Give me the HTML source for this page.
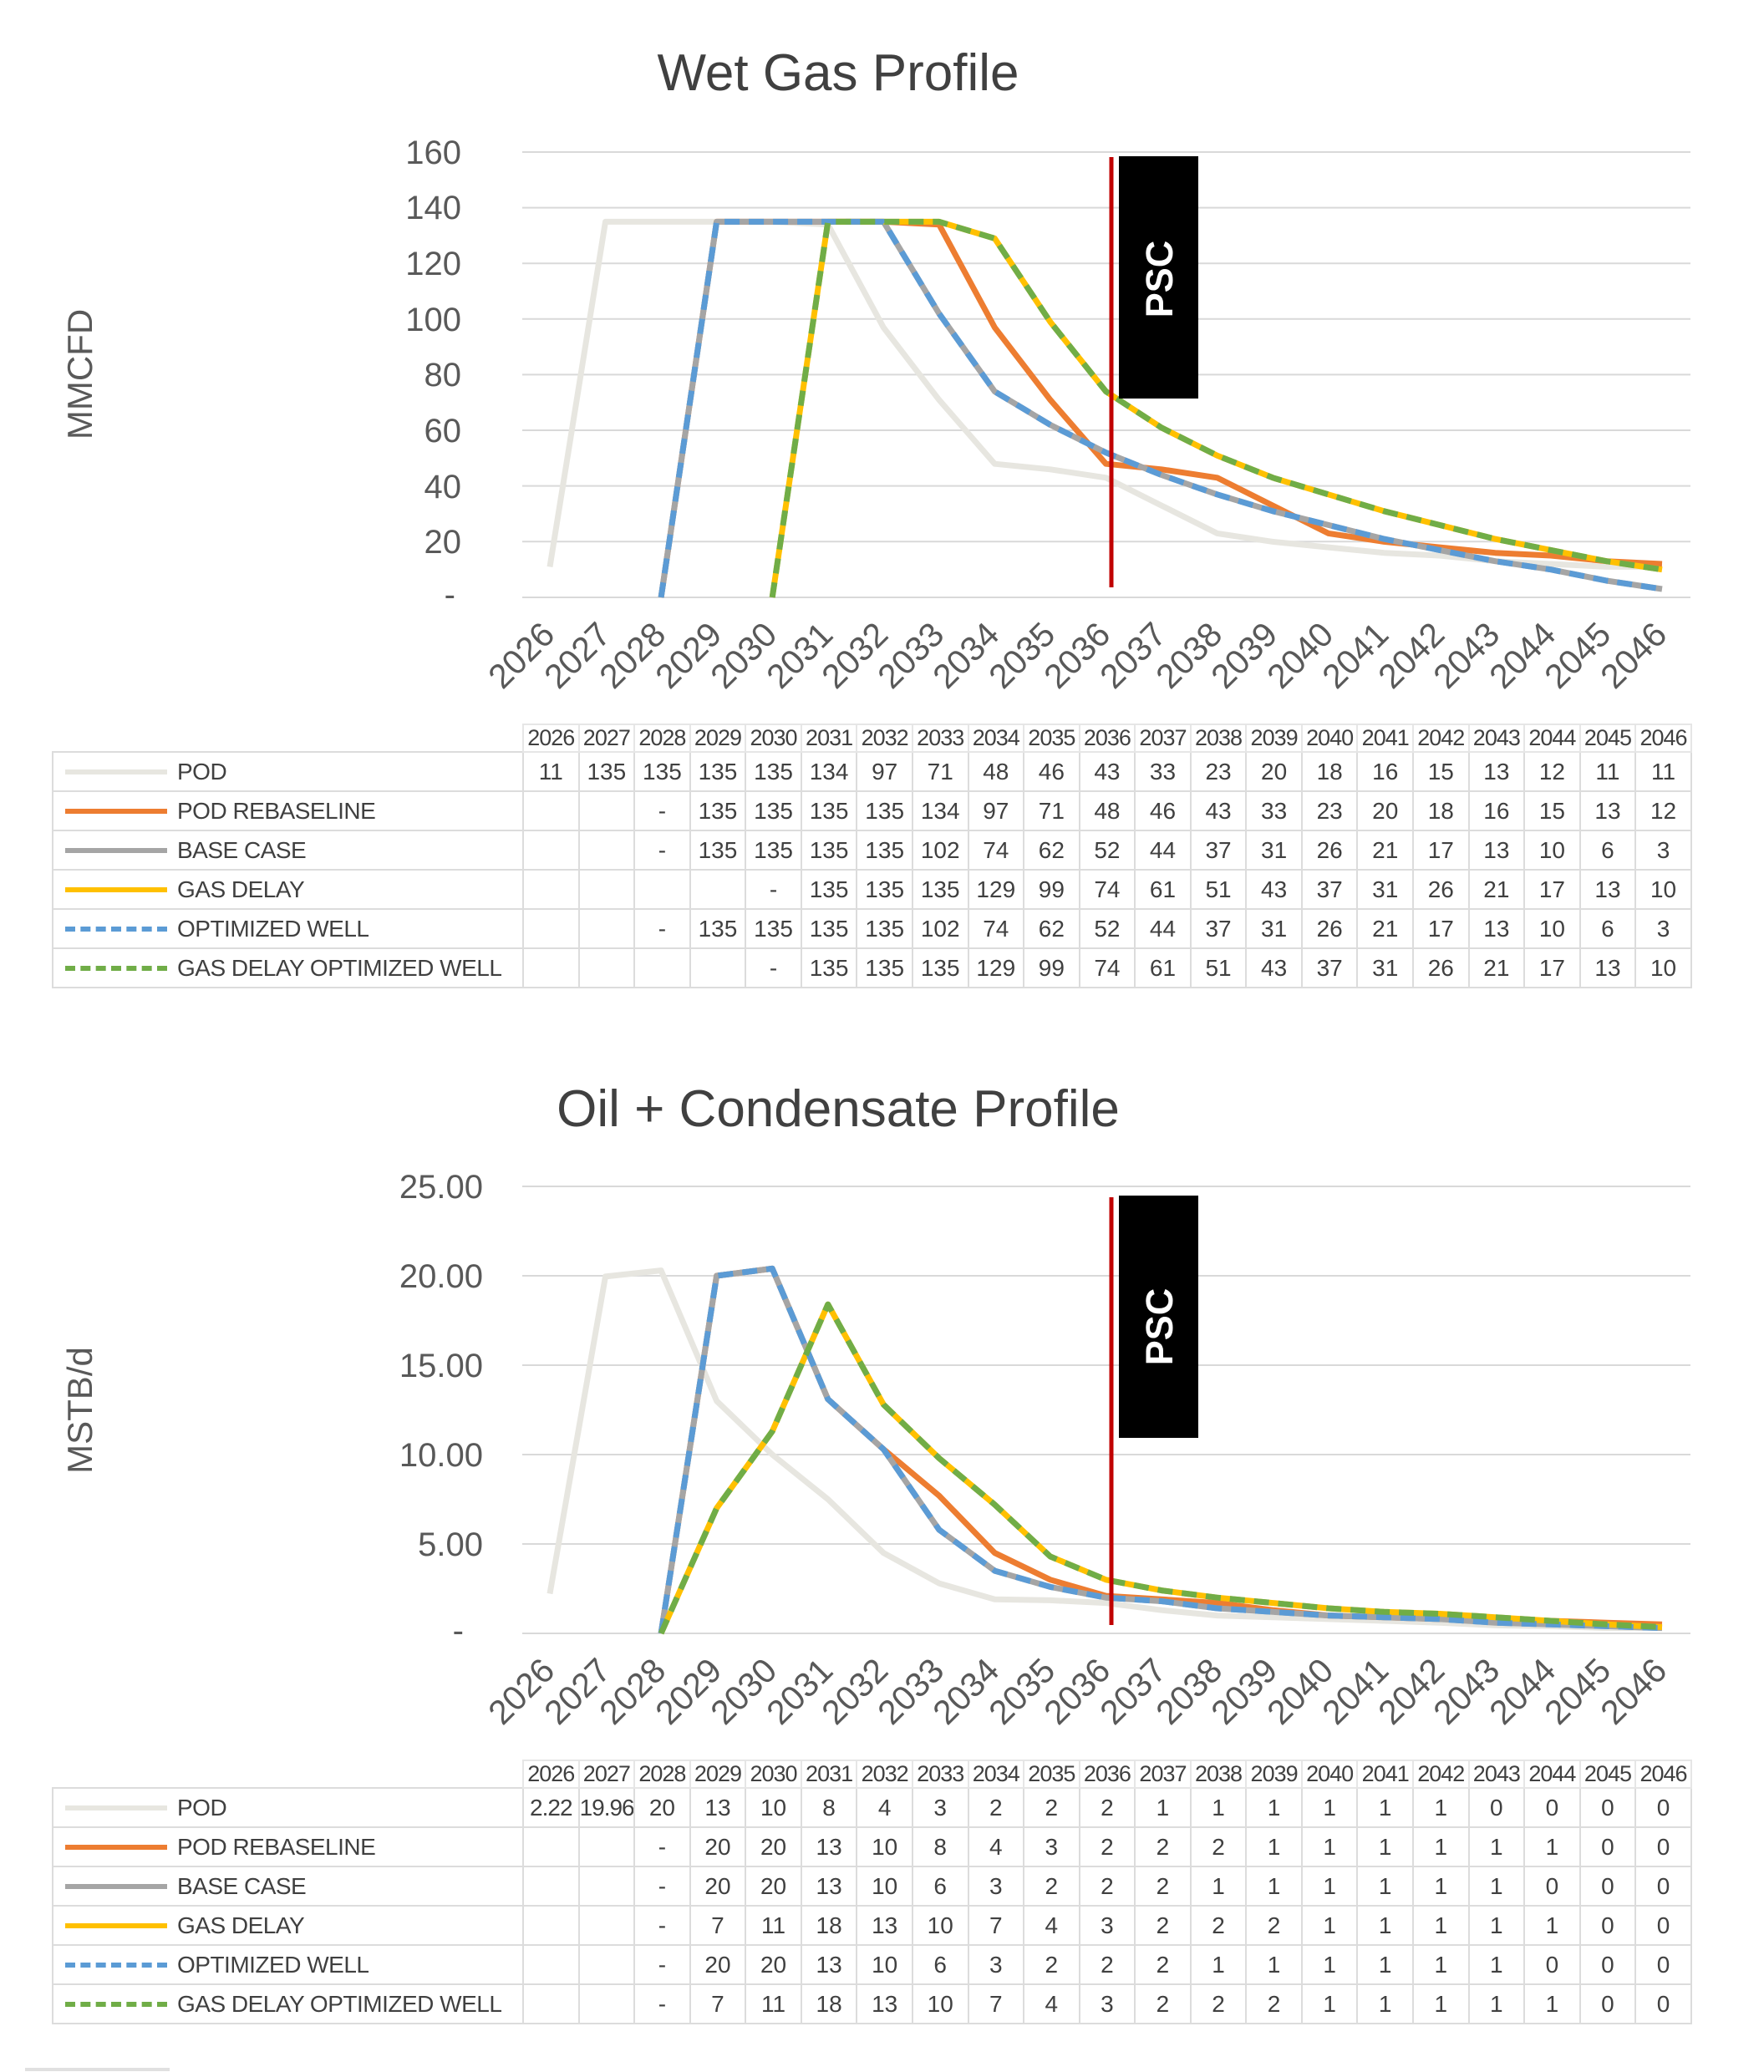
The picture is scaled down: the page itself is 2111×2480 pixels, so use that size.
<!DOCTYPE html>
<html><head><meta charset="utf-8">
<style>
html,body{margin:0;padding:0;background:#fff;}
body{width:2111px;height:2480px;position:relative;overflow:hidden;font-family:"Liberation Sans",Arial,sans-serif;}
svg{position:absolute;left:0;top:0;}
table{position:absolute;border-collapse:collapse;table-layout:fixed;font-family:"Liberation Sans",Arial,sans-serif;color:#404040;}
td{border:2px solid #dcdcdc;height:45px;padding:0;text-align:center;font-size:28px;white-space:nowrap;overflow:hidden;}
td.lg{text-align:left;font-size:28px;position:relative;padding-left:148px;letter-spacing:-0.5px;}
tr.hd td{height:30px;font-size:27px;border-color:#e6e6e6;letter-spacing:-1px;}
tr.hd td.blank{border:none;}
.sw{position:absolute;left:14px;top:20px;width:122px;height:0;border-top:6px solid;}
.dash{border-top-style:dashed;}
</style></head><body>
<svg width="2111" height="2480" xmlns="http://www.w3.org/2000/svg" font-family="Liberation Sans, Arial, sans-serif">
<g id="c1">
<text x="1003" y="108" font-size="62" fill="#404040" text-anchor="middle">Wet Gas Profile</text>
<g stroke="#d9d9d9" stroke-width="2">
<line x1="625" x2="2023" y1="182" y2="182"/><line x1="625" x2="2023" y1="248.6" y2="248.6"/><line x1="625" x2="2023" y1="315.2" y2="315.2"/><line x1="625" x2="2023" y1="381.8" y2="381.8"/><line x1="625" x2="2023" y1="448.4" y2="448.4"/><line x1="625" x2="2023" y1="515" y2="515"/><line x1="625" x2="2023" y1="581.6" y2="581.6"/><line x1="625" x2="2023" y1="648.2" y2="648.2"/><line x1="625" x2="2023" y1="715" y2="715"/>
</g>
<g font-size="40" fill="#595959" text-anchor="end">
<text x="552" y="196">160</text><text x="552" y="262">140</text><text x="552" y="329">120</text><text x="552" y="396">100</text><text x="552" y="462">80</text><text x="552" y="529">60</text><text x="552" y="596">40</text><text x="552" y="662">20</text><text x="545" y="725">-</text>
</g>
<text transform="translate(110,448) rotate(-90)" font-size="42" fill="#595959" text-anchor="middle">MMCFD</text>
<g font-size="41" fill="#595959" text-anchor="end">
<text transform="translate(666,762) rotate(-45)">2026</text><text transform="translate(733,762) rotate(-45)">2027</text><text transform="translate(799,762) rotate(-45)">2028</text><text transform="translate(866,762) rotate(-45)">2029</text><text transform="translate(932,762) rotate(-45)">2030</text><text transform="translate(999,762) rotate(-45)">2031</text><text transform="translate(1065,762) rotate(-45)">2032</text><text transform="translate(1132,762) rotate(-45)">2033</text><text transform="translate(1198,762) rotate(-45)">2034</text><text transform="translate(1265,762) rotate(-45)">2035</text><text transform="translate(1331,762) rotate(-45)">2036</text><text transform="translate(1398,762) rotate(-45)">2037</text><text transform="translate(1465,762) rotate(-45)">2038</text><text transform="translate(1531,762) rotate(-45)">2039</text><text transform="translate(1598,762) rotate(-45)">2040</text><text transform="translate(1664,762) rotate(-45)">2041</text><text transform="translate(1731,762) rotate(-45)">2042</text><text transform="translate(1797,762) rotate(-45)">2043</text><text transform="translate(1864,762) rotate(-45)">2044</text><text transform="translate(1930,762) rotate(-45)">2045</text><text transform="translate(1997,762) rotate(-45)">2046</text>
</g>
<g id="s1" fill="none" stroke-linejoin="round"></g>
<rect x="1339" y="187" width="95" height="290" fill="#000"/>
<line x1="1330" x2="1330" y1="188" y2="703" stroke="#c00000" stroke-width="5"/>
<text transform="translate(1403,334) rotate(-90)" font-size="45" font-weight="bold" fill="#fff" text-anchor="middle">PSC</text>
</g>
<g id="c2">
<text x="1003" y="1348" font-size="62" fill="#404040" text-anchor="middle">Oil + Condensate Profile</text>
<g stroke="#d9d9d9" stroke-width="2">
<line x1="625" x2="2023" y1="1420" y2="1420"/><line x1="625" x2="2023" y1="1527" y2="1527"/><line x1="625" x2="2023" y1="1634" y2="1634"/><line x1="625" x2="2023" y1="1741" y2="1741"/><line x1="625" x2="2023" y1="1848" y2="1848"/><line x1="625" x2="2023" y1="1955" y2="1955"/>
</g>
<g font-size="40" fill="#595959" text-anchor="end">
<text x="578" y="1434">25.00</text><text x="578" y="1541">20.00</text><text x="578" y="1648">15.00</text><text x="578" y="1755">10.00</text><text x="578" y="1862">5.00</text><text x="555" y="1965">-</text>
</g>
<text transform="translate(110,1688) rotate(-90)" font-size="42" fill="#595959" text-anchor="middle">MSTB/d</text>
<g font-size="41" fill="#595959" text-anchor="end">
<text transform="translate(666,2002) rotate(-45)">2026</text><text transform="translate(733,2002) rotate(-45)">2027</text><text transform="translate(799,2002) rotate(-45)">2028</text><text transform="translate(866,2002) rotate(-45)">2029</text><text transform="translate(932,2002) rotate(-45)">2030</text><text transform="translate(999,2002) rotate(-45)">2031</text><text transform="translate(1065,2002) rotate(-45)">2032</text><text transform="translate(1132,2002) rotate(-45)">2033</text><text transform="translate(1198,2002) rotate(-45)">2034</text><text transform="translate(1265,2002) rotate(-45)">2035</text><text transform="translate(1331,2002) rotate(-45)">2036</text><text transform="translate(1398,2002) rotate(-45)">2037</text><text transform="translate(1465,2002) rotate(-45)">2038</text><text transform="translate(1531,2002) rotate(-45)">2039</text><text transform="translate(1598,2002) rotate(-45)">2040</text><text transform="translate(1664,2002) rotate(-45)">2041</text><text transform="translate(1731,2002) rotate(-45)">2042</text><text transform="translate(1797,2002) rotate(-45)">2043</text><text transform="translate(1864,2002) rotate(-45)">2044</text><text transform="translate(1930,2002) rotate(-45)">2045</text><text transform="translate(1997,2002) rotate(-45)">2046</text>
</g>
<g id="s2" fill="none" stroke-linejoin="round"></g>
<rect x="1339" y="1431" width="95" height="290" fill="#000"/>
<line x1="1330" x2="1330" y1="1433" y2="1945" stroke="#c00000" stroke-width="5"/>
<text transform="translate(1403,1588) rotate(-90)" font-size="45" font-weight="bold" fill="#fff" text-anchor="middle">PSC</text>
</g>
<line x1="30" x2="203" y1="2477" y2="2477" stroke="#e0e0e0" stroke-width="4"/>
</svg>

<table style="left:62px;top:866px;width:1961px;">
<colgroup><col style="width:563px"><col span="21" style="width:66.57px"></colgroup>
<tr class="hd"><td class="blank"></td><td>2026</td><td>2027</td><td>2028</td><td>2029</td><td>2030</td><td>2031</td><td>2032</td><td>2033</td><td>2034</td><td>2035</td><td>2036</td><td>2037</td><td>2038</td><td>2039</td><td>2040</td><td>2041</td><td>2042</td><td>2043</td><td>2044</td><td>2045</td><td>2046</td></tr>
<tr><td class="lg"><span class="sw" style="border-color:#e7e6e0"></span>POD</td><td>11</td><td>135</td><td>135</td><td>135</td><td>135</td><td>134</td><td>97</td><td>71</td><td>48</td><td>46</td><td>43</td><td>33</td><td>23</td><td>20</td><td>18</td><td>16</td><td>15</td><td>13</td><td>12</td><td>11</td><td>11</td></tr>
<tr><td class="lg"><span class="sw" style="border-color:#ed7d31"></span>POD REBASELINE</td><td></td><td></td><td>-</td><td>135</td><td>135</td><td>135</td><td>135</td><td>134</td><td>97</td><td>71</td><td>48</td><td>46</td><td>43</td><td>33</td><td>23</td><td>20</td><td>18</td><td>16</td><td>15</td><td>13</td><td>12</td></tr>
<tr><td class="lg"><span class="sw" style="border-color:#a5a5a5"></span>BASE CASE</td><td></td><td></td><td>-</td><td>135</td><td>135</td><td>135</td><td>135</td><td>102</td><td>74</td><td>62</td><td>52</td><td>44</td><td>37</td><td>31</td><td>26</td><td>21</td><td>17</td><td>13</td><td>10</td><td>6</td><td>3</td></tr>
<tr><td class="lg"><span class="sw" style="border-color:#ffc000"></span>GAS DELAY</td><td></td><td></td><td></td><td></td><td>-</td><td>135</td><td>135</td><td>135</td><td>129</td><td>99</td><td>74</td><td>61</td><td>51</td><td>43</td><td>37</td><td>31</td><td>26</td><td>21</td><td>17</td><td>13</td><td>10</td></tr>
<tr><td class="lg"><span class="sw dash" style="border-color:#5b9bd5"></span>OPTIMIZED WELL</td><td></td><td></td><td>-</td><td>135</td><td>135</td><td>135</td><td>135</td><td>102</td><td>74</td><td>62</td><td>52</td><td>44</td><td>37</td><td>31</td><td>26</td><td>21</td><td>17</td><td>13</td><td>10</td><td>6</td><td>3</td></tr>
<tr><td class="lg"><span class="sw dash" style="border-color:#70ad47"></span>GAS DELAY OPTIMIZED WELL</td><td></td><td></td><td></td><td></td><td>-</td><td>135</td><td>135</td><td>135</td><td>129</td><td>99</td><td>74</td><td>61</td><td>51</td><td>43</td><td>37</td><td>31</td><td>26</td><td>21</td><td>17</td><td>13</td><td>10</td></tr>
</table>

<table style="left:62px;top:2106px;width:1961px;">
<colgroup><col style="width:563px"><col span="21" style="width:66.57px"></colgroup>
<tr class="hd"><td class="blank"></td><td>2026</td><td>2027</td><td>2028</td><td>2029</td><td>2030</td><td>2031</td><td>2032</td><td>2033</td><td>2034</td><td>2035</td><td>2036</td><td>2037</td><td>2038</td><td>2039</td><td>2040</td><td>2041</td><td>2042</td><td>2043</td><td>2044</td><td>2045</td><td>2046</td></tr>
<tr><td class="lg"><span class="sw" style="border-color:#e7e6e0"></span>POD</td><td style="letter-spacing:-1px">2.22</td><td style="letter-spacing:-1px">19.96</td><td>20</td><td>13</td><td>10</td><td>8</td><td>4</td><td>3</td><td>2</td><td>2</td><td>2</td><td>1</td><td>1</td><td>1</td><td>1</td><td>1</td><td>1</td><td>0</td><td>0</td><td>0</td><td>0</td></tr>
<tr><td class="lg"><span class="sw" style="border-color:#ed7d31"></span>POD REBASELINE</td><td></td><td></td><td>-</td><td>20</td><td>20</td><td>13</td><td>10</td><td>8</td><td>4</td><td>3</td><td>2</td><td>2</td><td>2</td><td>1</td><td>1</td><td>1</td><td>1</td><td>1</td><td>1</td><td>0</td><td>0</td></tr>
<tr><td class="lg"><span class="sw" style="border-color:#a5a5a5"></span>BASE CASE</td><td></td><td></td><td>-</td><td>20</td><td>20</td><td>13</td><td>10</td><td>6</td><td>3</td><td>2</td><td>2</td><td>2</td><td>1</td><td>1</td><td>1</td><td>1</td><td>1</td><td>1</td><td>0</td><td>0</td><td>0</td></tr>
<tr><td class="lg"><span class="sw" style="border-color:#ffc000"></span>GAS DELAY</td><td></td><td></td><td>-</td><td>7</td><td>11</td><td>18</td><td>13</td><td>10</td><td>7</td><td>4</td><td>3</td><td>2</td><td>2</td><td>2</td><td>1</td><td>1</td><td>1</td><td>1</td><td>1</td><td>0</td><td>0</td></tr>
<tr><td class="lg"><span class="sw dash" style="border-color:#5b9bd5"></span>OPTIMIZED WELL</td><td></td><td></td><td>-</td><td>20</td><td>20</td><td>13</td><td>10</td><td>6</td><td>3</td><td>2</td><td>2</td><td>2</td><td>1</td><td>1</td><td>1</td><td>1</td><td>1</td><td>1</td><td>0</td><td>0</td><td>0</td></tr>
<tr><td class="lg"><span class="sw dash" style="border-color:#70ad47"></span>GAS DELAY OPTIMIZED WELL</td><td></td><td></td><td>-</td><td>7</td><td>11</td><td>18</td><td>13</td><td>10</td><td>7</td><td>4</td><td>3</td><td>2</td><td>2</td><td>2</td><td>1</td><td>1</td><td>1</td><td>1</td><td>1</td><td>0</td><td>0</td></tr>
</table>

<script>
(function(){
function X(i){return 658+66.55*i;}
function draw(gid,zero,scale,series){
  var g=document.getElementById(gid),ns="http://www.w3.org/2000/svg";
  series.forEach(function(s){
    var pts=[];
    s.d.forEach(function(v,i){if(v!==null)pts.push(X(i).toFixed(1)+","+(zero-v*scale).toFixed(1));});
    var p=document.createElementNS(ns,"polyline");
    p.setAttribute("points",pts.join(" "));
    p.setAttribute("stroke",s.c);p.setAttribute("stroke-width","7");
    if(s.dash)p.setAttribute("stroke-dasharray","18 11");
    g.appendChild(p);
  });
}
var n=null;
var g_pod=[11,135,135,135,135,134,97,71,48,46,43,33,23,20,18,16,15,13,12,11,11];
var g_reb=[n,n,0,135,135,135,135,134,97,71,48,46,43,33,23,20,18,16,15,13,12];
var g_base=[n,n,0,135,135,135,135,102,74,62,52,44,37,31,26,21,17,13,10,6,3];
var g_del=[n,n,n,n,0,135,135,135,129,99,74,61,51,43,37,31,26,21,17,13,10];
draw("s1",715,3.33,[
 {d:g_pod,c:"#e7e6e0"},{d:g_reb,c:"#ed7d31"},{d:g_base,c:"#a5a5a5"},{d:g_del,c:"#ffc000"},
 {d:g_base,c:"#5b9bd5",dash:1},{d:g_del,c:"#70ad47",dash:1}]);
var o_pod=[2.22,19.96,20.3,13,10,7.5,4.5,2.8,1.9,1.85,1.7,1.3,1.0,0.9,0.8,0.7,0.6,0.45,0.4,0.3,0.3];
var o_reb=[n,n,0,20,20.4,13.1,10.3,7.7,4.5,3.0,2.1,1.9,1.7,1.3,1.0,0.9,0.8,0.75,0.7,0.6,0.5];
var o_base=[n,n,0,20,20.4,13.1,10.3,5.8,3.5,2.6,2.0,1.8,1.4,1.2,1.0,0.9,0.8,0.6,0.5,0.4,0.3];
var o_del=[n,n,0,7.0,11.3,18.4,12.8,9.8,7.2,4.3,3.0,2.4,2.0,1.7,1.4,1.2,1.1,0.9,0.7,0.5,0.35];
draw("s2",1955,21.4,[
 {d:o_pod,c:"#e7e6e0"},{d:o_reb,c:"#ed7d31"},{d:o_base,c:"#a5a5a5"},{d:o_del,c:"#ffc000"},
 {d:o_base,c:"#5b9bd5",dash:1},{d:o_del,c:"#70ad47",dash:1}]);
})();
</script>
</body></html>
